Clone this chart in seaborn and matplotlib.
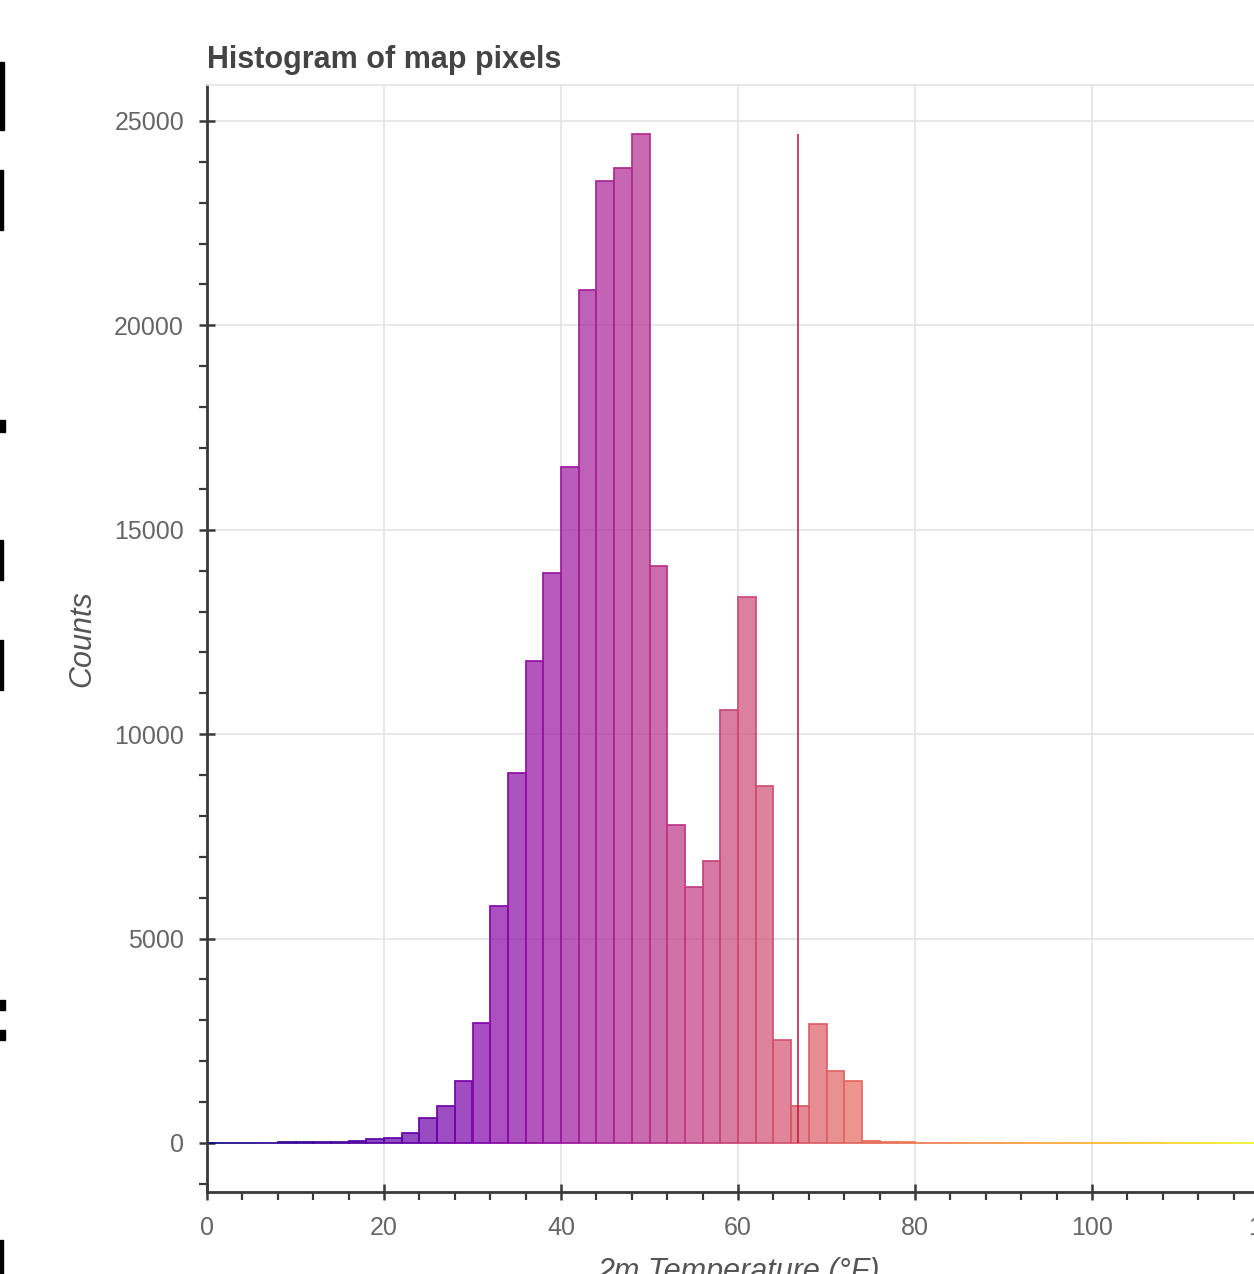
import numpy as np
import pandas as pd
import matplotlib
matplotlib.use("Agg")
import matplotlib.pyplot as plt
import seaborn as sns
from matplotlib.patches import Rectangle
from matplotlib.ticker import MultipleLocator

# ---------------- data ----------------
bin_edges = list(range(0, 122, 2))  # 0..120, width 2
counts = [
    10, 10, 10, 10, 12, 14, 25, 35, 50, 90,        # 0-20
    115, 240, 610, 900, 1520, 2935, 5800, 9050, 11790, 13940,  # 20-40
    16540, 20870, 23530, 23850, 24680, 14110, 7780, 6260, 6900, 10590,  # 40-60
    13360, 8730, 2520, 905, 2910, 1760, 1520, 55, 15, 12,  # 60-80
    10, 10, 9, 9, 8, 8, 8, 7, 7, 7,                # 80-100
    6, 6, 6, 5, 5, 5, 5, 5, 5, 5,                  # 100-120
]
mean_temp = 66.8
title = "Histogram of map pixels"
x_label = "2m Temperature (°F)"
y_label = "Counts"
x_ticks = [0, 20, 40, 60, 80, 100, 120]
y_ticks = [0, 5000, 10000, 15000, 20000, 25000]

centers = [(a + b) / 2 for a, b in zip(bin_edges[:-1], bin_edges[1:])]
df = pd.DataFrame({"temp": centers, "count": counts})

# ---------------- style ----------------
sns.set_style("white")
plt.rcParams["font.family"] = ["Liberation Sans", "DejaVu Sans"]

W, H = 1254, 1274
fig = plt.figure(figsize=(W / 100, H / 100), dpi=100)

x_max = 120.2
ax_left, ax_right_px = 207, 207 + x_max * 8.85
ax_top, ax_bottom = 85, 1192
ax = fig.add_axes([ax_left / W, (H - ax_bottom) / H,
                   (ax_right_px - ax_left) / W, (ax_bottom - ax_top) / H])

sns.histplot(data=df, x="temp", weights="count", bins=bin_edges, ax=ax,
             stat="count", element="bars", fill=True)

cmap = matplotlib.colormaps["plasma"]
n = len(ax.patches)
for i, p in enumerate(ax.patches):
    c = cmap(i / (n - 1))
    p.set_facecolor((c[0], c[1], c[2], 0.7))
    p.set_edgecolor((c[0], c[1], c[2], 0.95))
    p.set_linewidth(1.3)
    p.set_zorder(2)

ax.vlines(mean_temp, 0, max(counts), color="#c8143c", alpha=0.8,
          linewidth=1.4, zorder=3)

ax.set_xlim(0, x_max)
ax.set_ylim(-1200, 25880)

ax.set_xticks(x_ticks)
ax.set_yticks(y_ticks)
ax.xaxis.set_minor_locator(MultipleLocator(4))
ax.yaxis.set_minor_locator(MultipleLocator(1000))

ax.grid(True, which="major", color="#e6e6e6", linewidth=1.3, zorder=0)
ax.set_axisbelow(True)

ax.spines["right"].set_visible(False)
ax.spines["top"].set_color("#e6e6e6")
ax.spines["top"].set_linewidth(1.3)
for s in ["left", "bottom"]:
    ax.spines[s].set_color("#3a3a3a")
    ax.spines[s].set_linewidth(2)

ax.tick_params(which="both", bottom=True, left=True, top=False, right=False)
ax.tick_params(which="major", direction="inout", length=11, width=1.8,
               color="#3a3a3a", labelsize=18, labelcolor="#666666", pad=12)
ax.tick_params(which="minor", direction="out", length=6, width=1.6,
               color="#3a3a3a")
ax.tick_params(axis="y", which="major", pad=11)

ax.set_xlabel(x_label, fontsize=22, style="italic", color="#555555", labelpad=12)
ax.set_ylabel(y_label, fontsize=22, style="italic", color="#555555", labelpad=12)
ax.set_title(title, loc="left", fontsize=22, fontweight="bold",
             color="#444444", pad=12)

# cropped fragments of black text at the left edge of the screenshot
for (y0, y1, w) in [(62, 130, 4), (170, 230, 3), (420, 432, 5),
                    (540, 580, 3), (640, 690, 3), (1000, 1010, 5),
                    (1030, 1040, 5), (1240, 1274, 3)]:
    fig.patches.append(Rectangle((0, 1 - y1 / H), w / W, (y1 - y0) / H,
                                 transform=fig.transFigure, color="black"))

fig.savefig("out.png", dpi=100)
